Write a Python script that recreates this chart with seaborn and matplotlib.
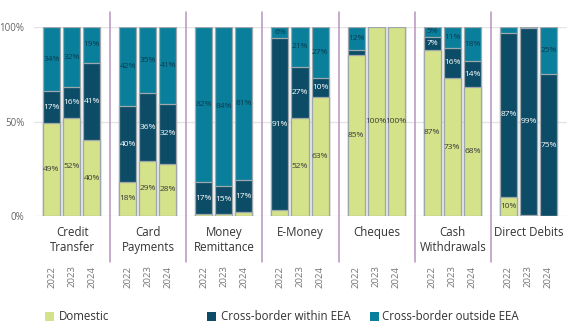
import matplotlib
matplotlib.use("Agg")
import matplotlib.pyplot as plt
import matplotlib.transforms as mtransforms
from matplotlib.patches import Rectangle
import numpy as np
import pandas as pd
import seaborn as sns

# Payment types and reporting years
categories = ["Credit\nTransfer", "Card\nPayments", "Money\nRemittance", "E-Money",
              "Cheques", "Cash\nWithdrawals", "Direct Debits"]
years = ["2022", "2023", "2024"]

# Share of transactions (%) per payment type and year (2022, 2023, 2024)
domestic = [49, 52, 40, 18, 29, 28, 1, 1, 2, 3, 52, 63, 85, 100, 100, 87, 73, 68, 10, 0.5, 0]
within_eea = [17, 16, 41, 40, 36, 32, 17, 15, 17, 91, 27, 10, 3, 0, 0, 7, 16, 14, 87, 99, 75]
outside_eea = [34, 32, 19, 42, 35, 41, 82, 84, 81, 6, 21, 27, 12, 0, 0, 5, 11, 18, 3, 0.5, 25]

series_names = ["Domestic", "Cross-border within EEA", "Cross-border outside EEA"]
colors = ["#d4e28a", "#0c4c66", "#0a7f9b"]
text_colors = ["#3a3a3a", "#ffffff", "#0d3a50"]
edge = "#9ea7ab"

GROUP = 3.8
OFFSET = 0.875

rows = []
for i, (d, w, o) in enumerate(zip(domestic, within_eea, outside_eea)):
    g, j = divmod(i, 3)
    total = d + w + o
    rows.append({
        "category": categories[g], "year": years[j],
        "pos": g * GROUP + OFFSET + j,
        "dom": d, "win": w, "out": o,
        "low": d / total * 100,
        "mid": (d + w) / total * 100,
        "top": 100.0,
    })
df = pd.DataFrame(rows)

sns.set_theme(style="white")
plt.rcParams["font.family"] = ["Open Sans", "DejaVu Sans"]

fig = plt.figure(figsize=(5.76, 3.33), dpi=100)
ax = fig.add_axes([34 / 576, 117 / 333, 533 / 576, 189 / 333])

for yv in (0, 50, 100):
    ax.axhline(yv, color="#e4e4e4", lw=1.0, zorder=0)

# Stacked bars: draw cumulative totals from top layer down
for col, color in [("top", colors[2]), ("mid", colors[1]), ("low", colors[0])]:
    sns.barplot(data=df, x="pos", y=col, native_scale=True, orient="x", width=0.85,
                color=color, saturation=1, edgecolor=edge, linewidth=0.9,
                errorbar=None, ax=ax, zorder=2)

# Segment value labels
for _, r in df.iterrows():
    vals = [r["dom"], r["win"], r["out"]]
    bounds = [0, r["low"], r["mid"], r["top"]]
    for k in range(3):
        if vals[k] >= 5:
            yc = (bounds[k] + bounds[k + 1]) / 2
            ax.text(r["pos"], yc, f"{vals[k]:g}%", ha="center", va="center",
                    fontsize=6.0, color=text_colors[k], zorder=5)

ax.set_xlim(0, GROUP * len(categories))
ax.set_ylim(0, 100)
ax.set_xlabel("")
ax.set_ylabel("")
ax.set_xticks([])
ax.set_yticks([0, 50, 100])
ax.set_yticklabels(["0%", "50%", "100%"], color="#666666", fontsize=7)
ax.tick_params(axis="y", length=0, pad=7)
for s in ax.spines.values():
    s.set_visible(False)

trans = mtransforms.blended_transform_factory(ax.transData, ax.transAxes)

# Group separators
for g in range(1, len(categories)):
    x = g * GROUP
    ax.plot([x, x], [1.08, -0.243], transform=trans, color="#b893bf", lw=1.1,
            clip_on=False, zorder=1)

# Category names and year labels
for g, cat in enumerate(categories):
    xc = g * GROUP + GROUP / 2
    ax.text(xc, -0.052, cat, transform=trans, ha="center", va="top",
            fontsize=8.3, color="#333333", linespacing=1.25)
    for j, yr in enumerate(years):
        ax.text(g * GROUP + OFFSET + j, -0.262, yr, transform=trans, ha="center",
                va="top", rotation=90, fontsize=6.8, color="#777777")

# Legend
legend_x = [(45, 59), (207, 221), (370, 382)]
for (sx, tx), name, color in zip(legend_x, series_names, colors):
    fig.add_artist(Rectangle((sx / 576, (333 - 321) / 333), 9 / 576, 9 / 333,
                             transform=fig.transFigure, facecolor=color,
                             edgecolor="none"))
    fig.text(tx / 576, (333 - 316.5) / 333, name, ha="left", va="center",
             fontsize=8.3, color="#333333")

fig.savefig("out.png", dpi=100)
